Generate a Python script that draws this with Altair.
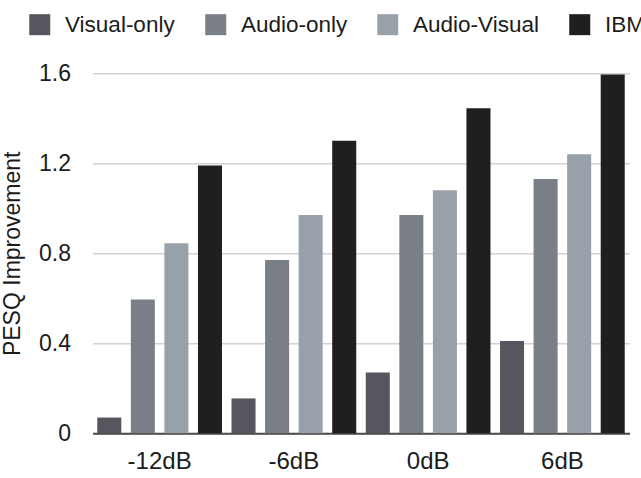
import altair as alt
import pandas as pd

# SNR conditions and methods
conditions = ["-12dB", "-6dB", "0dB", "6dB"]
methods = ["Visual-only", "Audio-only", "Audio-Visual", "IBM"]

# PESQ improvement per method, one value per SNR condition
visual_only = [0.07, 0.155, 0.27, 0.41]
audio_only = [0.595, 0.77, 0.97, 1.13]
audio_visual = [0.845, 0.97, 1.08, 1.24]
ibm = [1.19, 1.30, 1.445, 1.595]

colors = ["#55565e", "#7a7f87", "#98a0a9", "#1f1f1f"]

series = [visual_only, audio_only, audio_visual, ibm]
rows = []
for m, vals in zip(methods, series):
    for c, v in zip(conditions, vals):
        rows.append({"snr": c, "method": m, "pesq": v})
df = pd.DataFrame(rows)

font = "Liberation Sans"
text_color = "#1c1c1c"

chart = (
    alt.Chart(df)
    .mark_bar()
    .encode(
        x=alt.X(
            "snr:N",
            sort=conditions,
            scale=alt.Scale(paddingInner=0, paddingOuter=0),
            axis=alt.Axis(
                title=None,
                labelAngle=0,
                ticks=False,
                labelPadding=16,
                labelFontSize=24,
                labelFont=font,
                labelColor=text_color,
                domain=True,
                domainColor="#4a4a4a",
                domainWidth=2,
                grid=False,
            ),
        ),
        xOffset=alt.XOffset(
            "method:N",
            sort=methods,
            scale=alt.Scale(paddingInner=0.284, paddingOuter=0.142),
        ),
        y=alt.Y(
            "pesq:Q",
            scale=alt.Scale(domain=[0, 1.6], nice=False),
            axis=alt.Axis(
                title="PESQ Improvement",
                values=[0, 0.4, 0.8, 1.2, 1.6],
                format=".1~f",
                ticks=False,
                domain=False,
                grid=True,
                gridColor="#d2d2d2",
                gridWidth=1.5,
                labelPadding=22,
                labelFontSize=23,
                labelFont=font,
                labelColor=text_color,
                titleFont=font,
                titleFontSize=23,
                titleFontWeight="normal",
                titleColor=text_color,
                titleX=-68,
            ),
        ),
        color=alt.Color(
            "method:N",
            sort=methods,
            scale=alt.Scale(domain=methods, range=colors),
            legend=alt.Legend(
                title=None,
                orient="none",
                direction="horizontal",
                columns=4,
                legendX=-64,
                legendY=-60,
                symbolType="square",
                symbolSize=441,
                symbolStrokeWidth=0,
                symbolOpacity=1,
                labelFont=font,
                labelFontSize=22.5,
                labelColor=text_color,
                labelOffset=14,
                columnPadding=29,
                labelLimit=300,
            ),
        ),
    )
    .properties(
        width=537,
        height=360,
        autosize=alt.AutoSizeParams(type="none"),
        padding={"left": 92.5, "top": 73.3, "right": 11.5, "bottom": 44.7},
        view=alt.ViewBackground(stroke="transparent", strokeWidth=0, strokeOpacity=0),
    )
    .configure(background="white")
)

chart.save("out.html", embed_options={"renderer": "svg", "actions": False})
